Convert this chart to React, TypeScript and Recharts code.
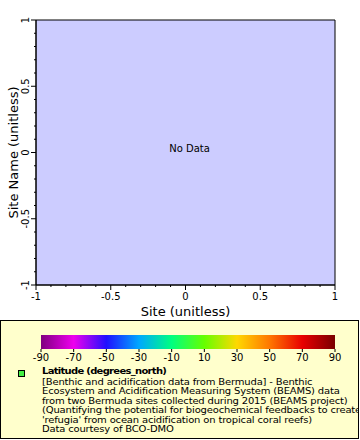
import { ScatterChart, Scatter, XAxis, YAxis, ReferenceArea, Label } from 'recharts'

// no rows came back for this query, the plot only shows "No Data"
const sitePoints: { x: number; y: number }[] = []

const xTicks = [-1, -0.9, -0.8, -0.7, -0.6, -0.5, -0.4, -0.3, -0.2, -0.1, 0, 0.1, 0.2, 0.3, 0.4, 0.5, 0.6, 0.7, 0.8, 0.9, 1]
const yTicks = [-1, -0.9, -0.8, -0.7, -0.6, -0.5, -0.4, -0.3, -0.2, -0.1, 0, 0.1, 0.2, 0.3, 0.4, 0.5, 0.6, 0.7, 0.8, 0.9, 1]
const majorTicks = [-1, -0.5, 0, 0.5, 1]

const colorbarLabels = [-90, -70, -50, -30, -10, 10, 30, 50, 70, 90]
const colorbarColors = ['#800080', '#ee00ee', '#2010ff', '#00a8ff', '#00ff80', '#66ff00', '#ffd800', '#ff7700', '#e80000', '#7a0000']

const legendTitle = 'Latitude (degrees_north)'
const legendLines = [
  '[Benthic and acidification data from Bermuda] - Benthic',
  'Ecosystem and Acidification Measuring System (BEAMS) data',
  'from two Bermuda sites collected during 2015 (BEAMS project)',
  '(Quantifying the potential for biogeochemical feedbacks to create',
  "'refugia' from ocean acidification on tropical coral reefs)",
  'Data courtesy of BCO-DMO',
]

const font = 'DejaVu Sans'

function XTick({ x, y, payload }: any) {
  const major = majorTicks.includes(payload.value)
  return (
    <g>
      <line x1={x} x2={x} y1={y} y2={y + (major ? 5 : 2)} stroke="#000" />
      {major && (
        <text x={x} y={y + 15} textAnchor="middle" fontSize={10} fontFamily={font} fill="#000">
          {payload.value}
        </text>
      )}
    </g>
  )
}

function YTick({ x, y, payload }: any) {
  const major = majorTicks.includes(payload.value)
  return (
    <g>
      <line x1={x} x2={x - (major ? 5 : 2)} y1={y} y2={y} stroke="#000" />
      {major && (
        <text
          x={x - 7}
          y={y}
          transform={`rotate(-90 ${x - 7} ${y})`}
          textAnchor="middle"
          fontSize={10}
          fontFamily={font}
          fill="#000"
        >
          {payload.value}
        </text>
      )}
    </g>
  )
}

function ColorbarLegend() {
  const barX = 41
  const barW = 294
  const step = barW / (colorbarLabels.length - 1)
  return (
    <svg width={360} height={120} style={{ position: 'absolute', left: 0, top: 320 }}>
      <defs>
        <linearGradient id="rainbow" x1="0" x2="1" y1="0" y2="0">
          {colorbarColors.map((c, i) => (
            <stop key={i} offset={i / (colorbarColors.length - 1)} stopColor={c} />
          ))}
        </linearGradient>
        <clipPath id="legendClip">
          <rect x={1} y={1} width={357} height={117} />
        </clipPath>
      </defs>
      <rect x={0.5} y={0.5} width={358} height={118} fill="#ffffcc" stroke="#000" />
      <rect x={barX} y={15} width={barW} height={14} fill="url(#rainbow)" />
      {colorbarLabels.map((v, i) => (
        <g key={v}>
          <line x1={barX + i * step} x2={barX + i * step} y1={29} y2={32} stroke="#000" />
          <text x={barX + i * step} y={41} textAnchor="middle" fontSize={10} fontFamily={font} fill="#000">
            {v}
          </text>
        </g>
      ))}
      <rect x={18.5} y={50.5} width={6} height={6} fill="#44ee44" stroke="#000" />
      <g clipPath="url(#legendClip)" fontFamily={font} fontSize={10} fill="#000">
        <text transform="translate(42 54) scale(1 0.9)" fontWeight="bold" letterSpacing={-0.7}>
          {legendTitle}
        </text>
        {legendLines.map((line, i) => (
          <text
            key={i}
            transform={`translate(42 ${64.5 + i * 9.5}) scale(1 0.86)`}
            letterSpacing={-0.17}
            style={{ whiteSpace: 'pre' }}
          >
            {line}
          </text>
        ))}
      </g>
    </svg>
  )
}

export default function App() {
  return (
    <div style={{ position: 'absolute', left: 0, top: 0, width: 360, height: 440, background: '#fff', fontFamily: font }}>
      <ScatterChart width={360} height={320} margin={{ top: 20, right: 25, bottom: 0, left: 0 }}>
        <XAxis
          type="number"
          dataKey="x"
          domain={[-1, 1]}
          ticks={xTicks}
          interval={0}
          tickLine={false}
          tickSize={0}
          tickMargin={0}
          axisLine={{ stroke: '#000' }}
          tick={<XTick />}
          height={35}
          allowDataOverflow
        >
          <Label
            content={({ viewBox }: any) => (
              <text
                x={viewBox.x + viewBox.width / 2}
                y={viewBox.y + 31}
                textAnchor="middle"
                fontSize={13}
                fontFamily={font}
                fill="#000"
              >
                Site (unitless)
              </text>
            )}
          />
        </XAxis>
        <YAxis
          type="number"
          dataKey="y"
          domain={[-1, 1]}
          ticks={yTicks}
          interval={0}
          tickLine={false}
          tickSize={0}
          tickMargin={0}
          axisLine={{ stroke: '#000' }}
          tick={<YTick />}
          width={36}
          allowDataOverflow
        >
          <Label
            content={({ viewBox }: any) => {
              const cx = 18
              const cy = viewBox.y + viewBox.height / 2
              return (
                <text
                  x={cx}
                  y={cy}
                  transform={`rotate(-90 ${cx} ${cy})`}
                  textAnchor="middle"
                  fontSize={13}
                  fontFamily={font}
                  fill="#000"
                >
                  Site Name (unitless)
                </text>
              )
            }}
          />
        </YAxis>
        <ReferenceArea x1={-1} x2={1} y1={-1} y2={1} fill="#ccccff" fillOpacity={1} stroke="#000" strokeOpacity={1}>
          <Label value="No Data" position="center" dx={4} dy={-4} fontSize={10} fontFamily={font} fill="#000" />
        </ReferenceArea>
        <Scatter data={sitePoints} fill="#44ee44" isAnimationActive={false} />
      </ScatterChart>
      <ColorbarLegend />
    </div>
  )
}
